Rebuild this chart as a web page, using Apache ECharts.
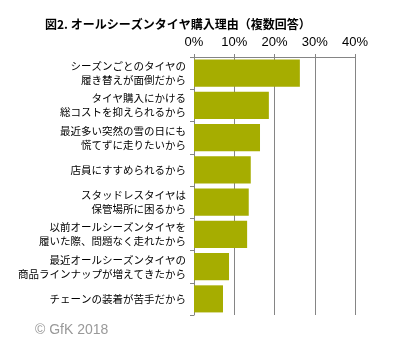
<!DOCTYPE html>
<html>
<head>
<meta charset="utf-8">
<script src="https://cdn.jsdelivr.net/npm/echarts@6/dist/echarts.min.js"></script>
<style>
  html, body { margin: 0; padding: 0; background: #fff; }
  #chart { width: 396px; height: 349px; }
</style>
</head>
<body>
<div id="chart"></div>
<script>
// Purchase reasons for all-season tyres (multiple answers), share in %
const reasons = [
  'シーズンごとのタイヤの\n履き替えが面倒だから',
  'タイヤ購入にかける\n総コストを抑えられるから',
  '最近多い突然の雪の日にも\n慌てずに走りたいから',
  '店員にすすめられるから',
  'スタッドレスタイヤは\n保管場所に困るから',
  '以前オールシーズンタイヤを\n履いた際、問題なく走れたから',
  '最近オールシーズンタイヤの\n商品ラインナップが増えてきたから',
  'チェーンの装着が苦手だから'
];
const shares = [26.3, 18.6, 16.4, 14.1, 13.6, 13.2, 8.7, 7.2];
const axisTicks = [0, 10, 20, 30, 40];

const chart = echarts.init(document.getElementById('chart'));
const gray = '#858585';

chart.setOption({
  animation: false,
  title: {
    text: '図2. オールシーズンタイヤ購入理由（複数回答）',
    left: 40,
    top: 13,
    textStyle: {
      fontFamily: 'Noto Sans CJK JP',
      fontSize: 12,
      fontWeight: 'bold',
      color: '#000'
    }
  },
  graphic: [{
    type: 'text',
    left: 35,
    top: 323,
    style: {
      text: '© GfK 2018',
      font: '14px "Liberation Sans", Arial, sans-serif',
      fill: '#999999'
    }
  }],
  grid: { left: 194, top: 57, right: 41, bottom: 34 },
  xAxis: {
    type: 'value',
    position: 'top',
    min: axisTicks[0],
    max: axisTicks[axisTicks.length - 1],
    interval: 10,
    axisLine: { show: true, lineStyle: { color: gray, width: 1 } },
    axisTick: { show: true, length: 3, lineStyle: { color: gray } },
    splitLine: { show: true, lineStyle: { color: gray, width: 1 } },
    axisLabel: {
      formatter: v => v + '%',
      fontFamily: 'Liberation Sans',
      fontSize: 13,
      color: '#000',
      margin: 8
    }
  },
  yAxis: {
    type: 'category',
    inverse: true,
    data: reasons,
    axisLine: { show: true, lineStyle: { color: gray, width: 1 } },
    axisTick: { show: true, length: 4, lineStyle: { color: gray } },
    axisLabel: {
      fontFamily: 'Noto Sans CJK JP',
      fontSize: 10.5,
      lineHeight: 14,
      color: '#000',
      margin: 8,
      align: 'right'
    }
  },
  series: [{
    type: 'bar',
    data: shares,
    barCategoryGap: '16%',
    itemStyle: { color: '#A6AD00' }
  }]
});
</script>
</body>
</html>
